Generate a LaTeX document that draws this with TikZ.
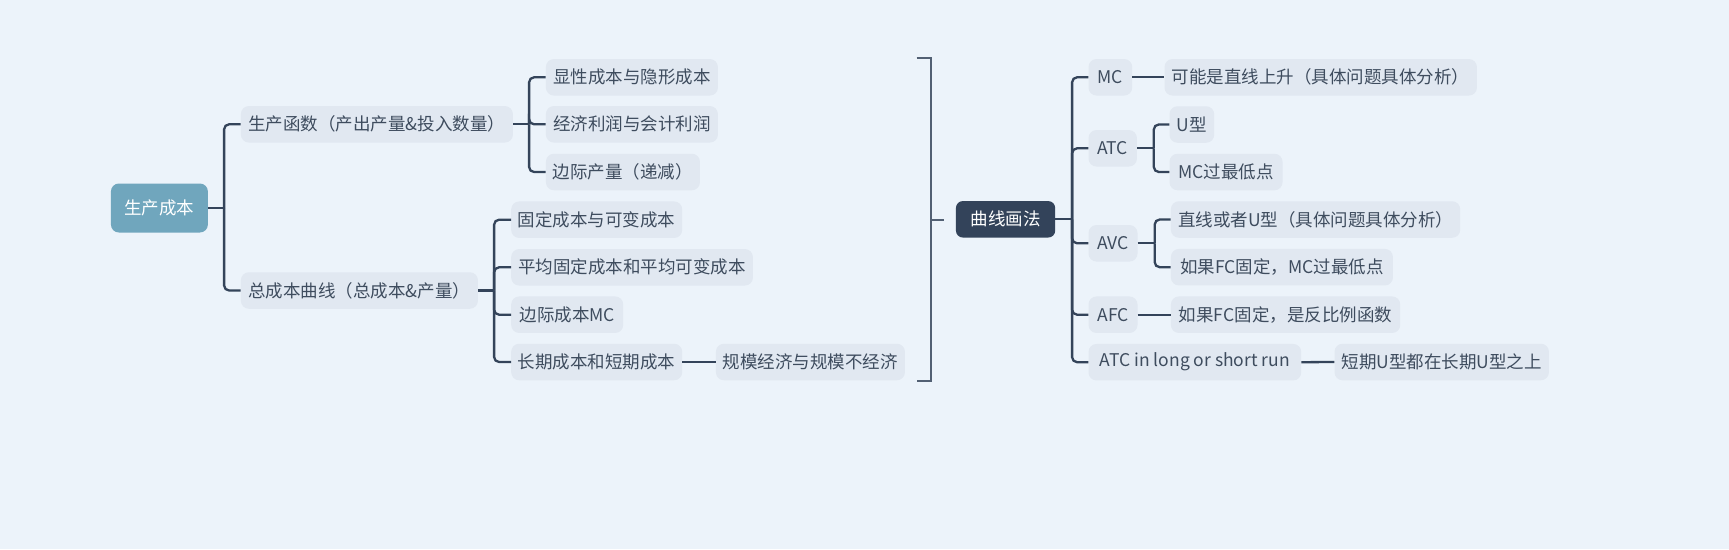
\documentclass[tikz,border=0pt]{standalone}
\usepackage{fontspec}
\setmainfont{Noto Sans CJK SC}
\usetikzlibrary{positioning}
\definecolor{bgblue}{HTML}{ECF3FA}
\definecolor{topicgray}{HTML}{E1E8F1}
\definecolor{inkgray}{HTML}{3E4C5E}
\definecolor{linkblue}{HTML}{34445A}
\definecolor{rootblue}{HTML}{70A6BD}
\definecolor{summdark}{HTML}{33435A}
\newcommand{\mapfont}{\fontsize{17.5}{21}\selectfont}

\begin{document}
\begin{tikzpicture}[
    x=1pt, y=-1pt,
    topic/.style={
      fill=topicgray, rounded corners=8pt, text=inkgray, anchor=west,
      minimum height=36.5pt, inner xsep=6pt, inner ysep=0pt, font=\mapfont
    },
    roottopic/.style={
      topic, fill=rootblue, text=white, minimum height=49pt
    },
    summtopic/.style={
      topic, fill=summdark, text=white, rounded corners=7pt
    },
    link/.style={draw=linkblue, line width=2.3pt, rounded corners=5pt},
    brace/.style={draw=linkblue!85!white, line width=2pt},
  ]
    \fill[bgblue] (0,0) rectangle (1729,549);

    % left tree
    \node[roottopic, minimum width=97pt] (root) at (110.7,208) {生产成本};
    \node[topic, minimum width=272pt] (prodfn) at (240.7,124.3) {生产函数（产出产量\&投入数量）};
    \node[topic, minimum width=237pt] (totcost) at (240.7,290.5) {总成本曲线（总成本\&产量）};
    \node[topic, minimum width=172pt] (explicit) at (545.7,77.3) {显性成本与隐形成本};
    \node[topic, minimum width=172pt] (profit) at (545.7,124.3) {经济利润与会计利润};
    \node[topic, minimum width=154pt] (margprod) at (545.7,172) {边际产量（递减）};
    \node[topic, minimum width=171pt] (fixvar) at (511,219.7) {固定成本与可变成本};
    \node[topic, minimum width=241.7pt] (avgcost) at (511,267.3) {平均固定成本和平均可变成本};
    \node[topic, minimum width=112pt] (margcost) at (511,314.7) {边际成本MC};
    \node[topic, minimum width=171pt] (longshort) at (511,362) {长期成本和短期成本};
    \node[topic, minimum width=189pt] (scale) at (715.7,362) {规模经济与规模不经济};

    \draw[link] (root.east) -- ++(16,0) coordinate (root-j);
    \draw[link] (root-j) |- (prodfn.west);
    \draw[link] (root-j) |- (totcost.west);
    \draw[link] (prodfn.east) -- ++(16,0) coordinate (prodfn-j);
    \draw[link] (prodfn-j) |- (explicit.west);
    \draw[link] (prodfn-j) |- (profit.west);
    \draw[link] (prodfn-j) |- (margprod.west);
    \draw[link] (totcost.east) -- ++(16,0) coordinate (totcost-j);
    \draw[link] (totcost-j) |- (fixvar.west);
    \draw[link] (totcost-j) |- (avgcost.west);
    \draw[link] (totcost-j) |- (margcost.west);
    \draw[link] (totcost-j) |- (longshort.west);
    \draw[link] (longshort.east) -- (scale.west);

    % summary bracket
    \coordinate (br-top) at (916.7,57.5);
    \coordinate (br-bot) at (916.7,381);
    \draw[brace] (br-top) -- ++(14,0) |- (br-bot);
    \draw[brace] (930.7,220) -- ++(13.3,0) coordinate (br-tip);

    % right tree
    \node[summtopic, minimum width=99.3pt] (curves) at (955.7,219.3) {曲线画法};
    \node[topic, minimum width=43.7pt] (mc) at (1088.3,77.3) {MC};
    \node[topic, minimum width=312.4pt] (mcline) at (1164.3,77.3) {可能是直线上升（具体问题具体分析）};
    \node[topic, minimum width=48.4pt] (atc) at (1088.3,148.3) {ATC};
    \node[topic, minimum width=44.7pt] (ushape) at (1169.3,124.5) {U型};
    \node[topic, minimum width=113pt] (mclow) at (1169.3,172) {MC过最低点};
    \node[topic, minimum width=49pt] (avc) at (1088.3,243.3) {AVC};
    \node[topic, minimum width=289.3pt] (avcline) at (1170.7,219.5) {直线或者U型（具体问题具体分析）};
    \node[topic, minimum width=222pt] (avclow) at (1170.7,267.2) {如果FC固定，MC过最低点};
    \node[topic, minimum width=49pt] (afc) at (1088.3,314.7) {AFC};
    \node[topic, minimum width=229.3pt] (afcinv) at (1170.7,314.7) {如果FC固定，是反比例函数};
    \node[topic, minimum width=212.7pt, inner xsep=4pt] (atcrun) at (1088.3,362.2) {ATC in long or short run};
    \node[topic, minimum width=214.4pt] (above) at (1334.3,362) {短期U型都在长期U型之上};

    \draw[link] (curves.east) -- ++(16.7,0) coordinate (curves-j);
    \draw[link] (curves-j) |- (mc.west);
    \draw[link] (curves-j) |- (atc.west);
    \draw[link] (curves-j) |- (avc.west);
    \draw[link] (curves-j) |- (afc.west);
    \draw[link] (curves-j) |- (atcrun.west);
    \draw[link] (mc.east) -- (mcline.west);
    \draw[link] (atc.east) -- ++(16.7,0) coordinate (atc-j);
    \draw[link] (atc-j) |- (ushape.west);
    \draw[link] (atc-j) |- (mclow.west);
    \draw[link] (avc.east) -- ++(17,0) coordinate (avc-j);
    \draw[link] (avc-j) |- (avcline.west);
    \draw[link] (avc-j) |- (avclow.west);
    \draw[link] (afc.east) -- (afcinv.west);
    \draw[link] (atcrun.east) -- (above.west);
  \end{tikzpicture}
\end{document}
